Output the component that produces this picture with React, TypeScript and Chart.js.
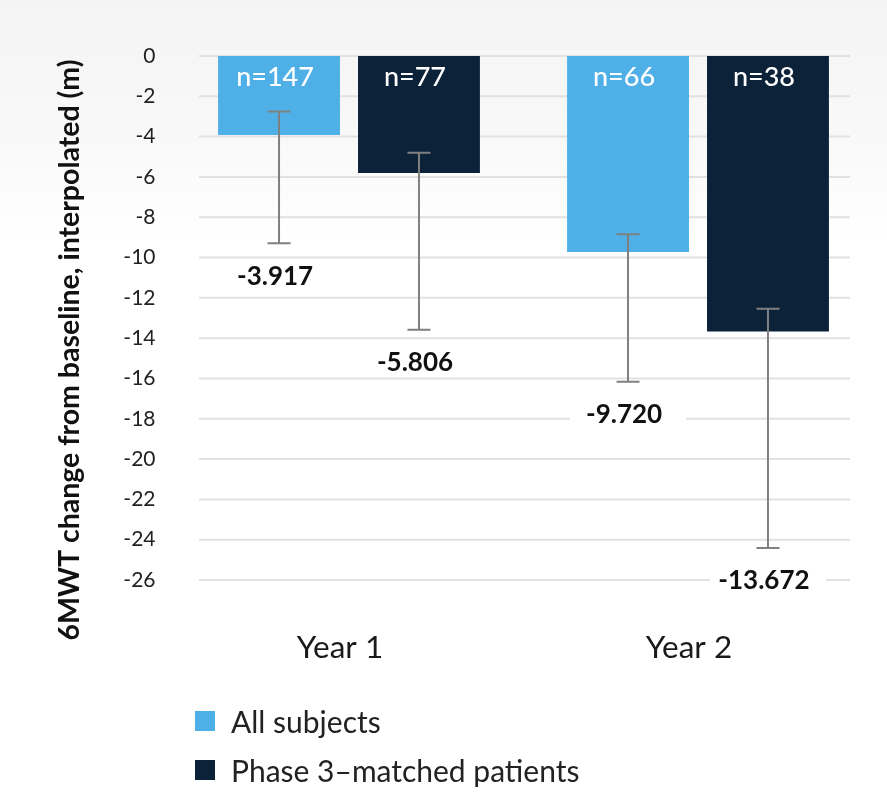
import React, { useEffect, useRef } from 'react';
import { Chart, registerables } from 'chart.js';

Chart.register(...registerables);

// ---- data ----
const categories = ['Year 1', 'Year 2'];
const seriesNames = ['All subjects', 'Phase 3–matched patients'];
const seriesColors = ['#4fb0e8', '#0b2239'];
const allSubjectsValues = [-3.917, -9.72];
const phase3Values = [-5.806, -13.672];
const allSubjectsN = [147, 66];
const phase3N = [77, 38];
const allSubjectsUpper = [-2.75, -8.84];
const allSubjectsLower = [-9.29, -16.16];
const phase3Upper = [-4.8, -12.54];
const phase3Lower = [-13.58, -24.41];
const yMin = -26;
const yMax = 0;
const yStep = 2;
const yTitle = '6MWT change from baseline, interpolated (m)';

const overlayPlugin = {
  id: 'overlay',
  beforeDatasetsDraw(chart: any) {
    const { ctx, chartArea, scales } = chart;
    const y = scales.y;
    ctx.save();
    ctx.strokeStyle = '#e1e1e1';
    ctx.lineWidth = 2;
    y.ticks.forEach((t: any) => {
      const py = y.getPixelForValue(t.value);
      ctx.beginPath();
      ctx.moveTo(chartArea.left + 24.5, py);
      ctx.lineTo(chartArea.right - 22.5, py);
      ctx.stroke();
    });
    ctx.restore();
  },
  afterDatasetsDraw(chart: any) {
    const { ctx, scales } = chart;
    const y = scales.y;
    chart.data.datasets.forEach((ds: any, di: number) => {
      const meta = chart.getDatasetMeta(di);
      meta.data.forEach((el: any, i: number) => {
        const x = el.x;
        const yHi = y.getPixelForValue(ds.upper[i]);
        const yLo = y.getPixelForValue(ds.lower[i]);
        // error bar
        ctx.save();
        ctx.strokeStyle = '#808080';
        ctx.lineWidth = 2;
        ctx.beginPath();
        ctx.moveTo(x, yHi);
        ctx.lineTo(x, yLo);
        ctx.moveTo(x - 11.5, yHi);
        ctx.lineTo(x + 11.5, yHi);
        ctx.moveTo(x - 11.5, yLo);
        ctx.lineTo(x + 11.5, yLo);
        ctx.stroke();
        ctx.restore();

        // n label inside bar
        ctx.save();
        ctx.fillStyle = '#ffffff';
        ctx.font = '500 27px Lato';
        ctx.textAlign = 'center';
        ctx.textBaseline = 'middle';
        ctx.fillText('n=' + ds.nValues[i], x - 4, y.getPixelForValue(0) + 21);
        ctx.restore();

        // value label below error bar
        const cy = yLo + 33;
        ctx.save();
        ctx.fillStyle = '#ffffff';
        ctx.fillRect(x - 58, cy - 14, 116, 28);
        ctx.fillStyle = '#111111';
        ctx.font = 'bold 26px Lato';
        ctx.textAlign = 'center';
        ctx.textBaseline = 'middle';
        ctx.fillText(ds.data[i].toFixed(3), x - 4, cy);
        ctx.restore();
      });
    });
  },
  afterDraw(chart: any) {
    const { ctx } = chart;
    ctx.save();
    ctx.translate(70, 350);
    ctx.rotate(-Math.PI / 2);
    ctx.fillStyle = '#111111';
    ctx.font = 'bold 28.5px Lato';
    ctx.textAlign = 'center';
    ctx.textBaseline = 'middle';
    ctx.fillText(yTitle, 0, 0);
    ctx.restore();
  },
};

export default function App() {
  const canvasRef = useRef<HTMLCanvasElement | null>(null);

  useEffect(() => {
    if (!canvasRef.current) return;
    const chart = new Chart(canvasRef.current, {
      type: 'bar',
      data: {
        labels: categories,
        datasets: [
          {
            label: seriesNames[0],
            data: allSubjectsValues,
            backgroundColor: seriesColors[0],
            upper: allSubjectsUpper,
            lower: allSubjectsLower,
            nValues: allSubjectsN,
            barPercentage: 0.871,
            categoryPercentage: 0.802,
          } as any,
          {
            label: seriesNames[1],
            data: phase3Values,
            backgroundColor: seriesColors[1],
            upper: phase3Upper,
            lower: phase3Lower,
            nValues: phase3N,
            barPercentage: 0.871,
            categoryPercentage: 0.802,
          } as any,
        ],
      },
      options: {
        animation: false,
        responsive: true,
        maintainAspectRatio: false,
        layout: { padding: { top: 56, right: 14.5, bottom: 143, left: 0 } },
        plugins: {
          legend: { display: false },
          tooltip: { enabled: false },
        },
        scales: {
          x: {
            type: 'category',
            offset: true,
            grid: { display: false, drawTicks: false },
            border: { display: false },
            ticks: {
              font: { family: 'Lato', size: 31.5 },
              color: '#1a1a1a',
              padding: 49,
              labelOffset: -9,
            },
            afterFit: (s: any) => {
              s.height = 80;
            },
          },
          y: {
            min: yMin,
            max: yMax,
            grid: { display: false, drawTicks: false },
            border: { display: false },
            ticks: {
              stepSize: yStep,
              font: { family: 'Lato', size: 21 },
              color: '#222222',
              padding: 19,
            },
            afterFit: (s: any) => {
              s.width = 174.5;
            },
          },
        },
      },
      plugins: [overlayPlugin],
    } as any);
    return () => chart.destroy();
  }, []);

  const legendRows = [721, 770];

  return (
    <div
      style={{
        position: 'absolute',
        left: 0,
        top: 0,
        width: 887,
        height: 803,
        background: 'linear-gradient(to bottom, #f4f4f4 0%, #f9f9f9 18%, #ffffff 30%, #ffffff 100%)',
        overflow: 'hidden',
      }}
    >
      <div style={{ position: 'absolute', left: 0, top: 0, width: 887, height: 803 }}>
        <canvas ref={canvasRef} />
      </div>
      {seriesNames.map((name, i) => (
        <div
          key={name}
          style={{
            position: 'absolute',
            left: 195,
            top: legendRows[i] - 20,
            height: 40,
            display: 'flex',
            alignItems: 'center',
            fontFamily: 'Lato',
            fontSize: 30,
            color: '#222222',
            whiteSpace: 'nowrap',
          }}
        >
          <span
            style={{
              display: 'inline-block',
              width: 20,
              height: 20,
              background: seriesColors[i],
              marginRight: 16,
            }}
          />
          <span>{name}</span>
        </div>
      ))}
    </div>
  );
}
